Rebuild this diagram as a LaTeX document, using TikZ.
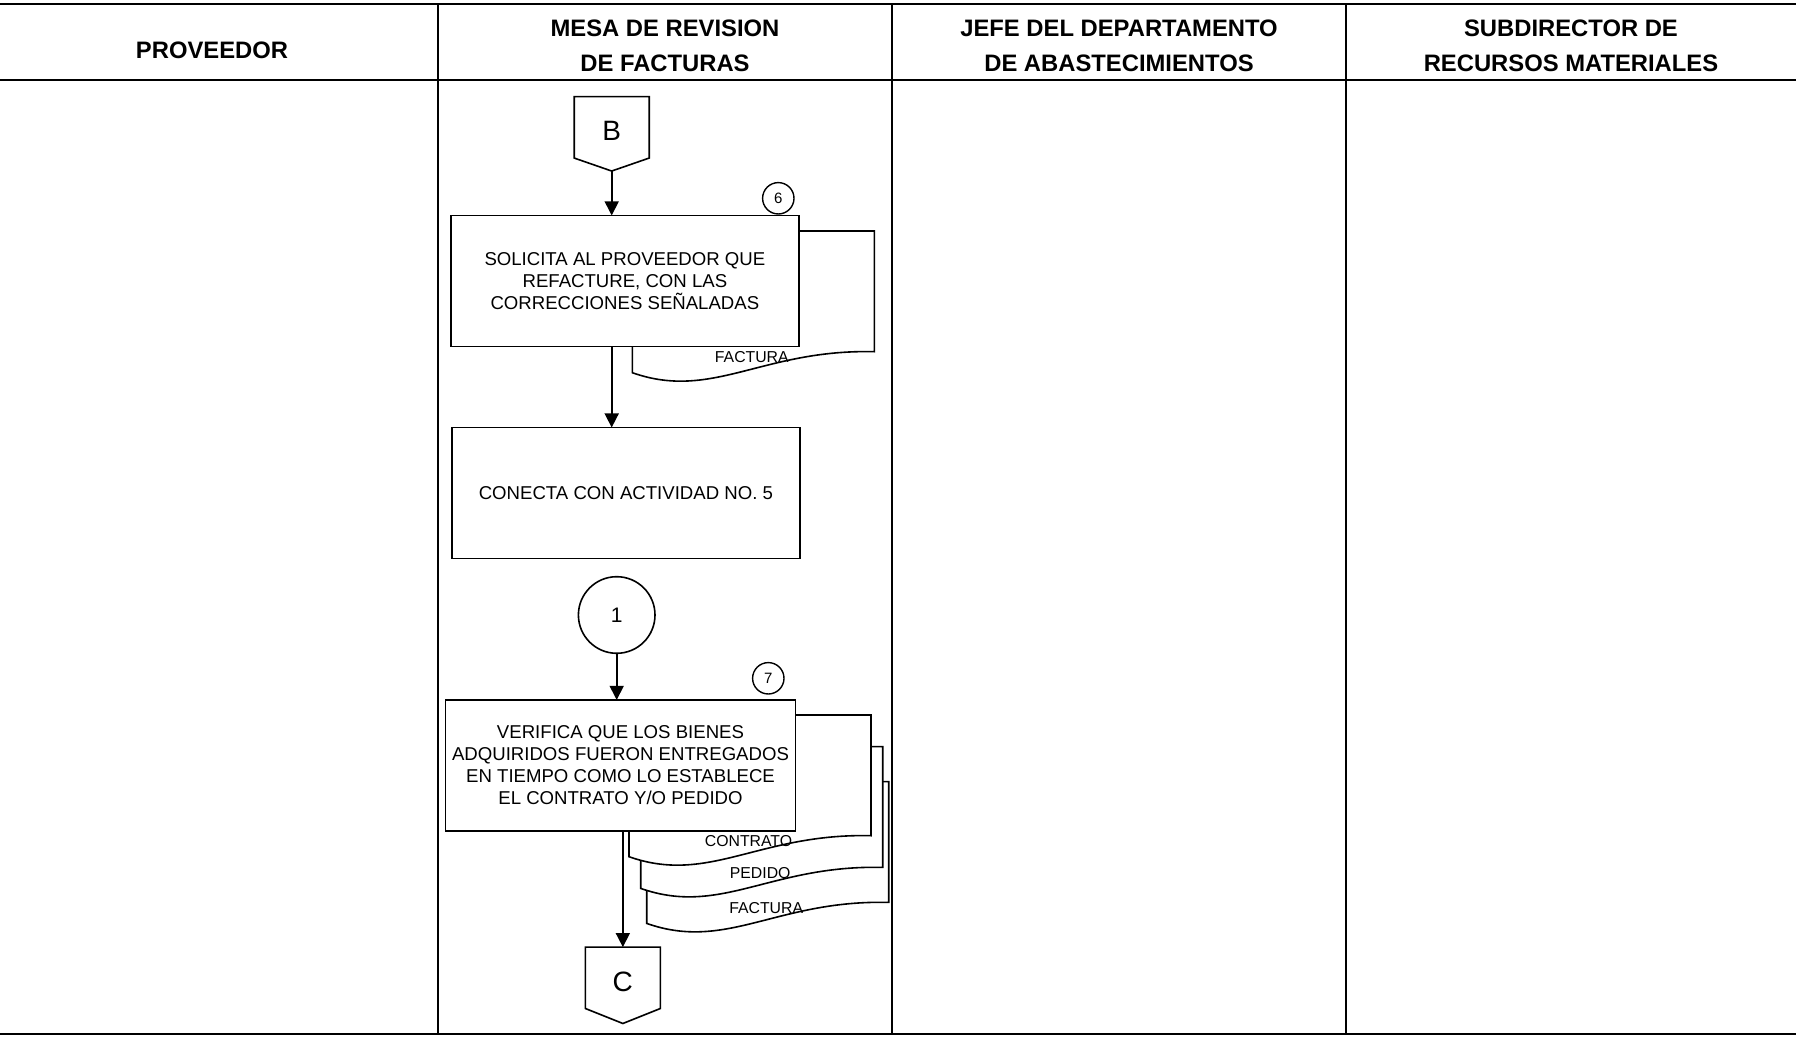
\documentclass[tikz,border=0pt]{standalone}
\usepackage{fontspec}
\setmainfont{Liberation Sans}
\usetikzlibrary{calc}
\usetikzlibrary{positioning}
\usetikzlibrary{arrows.meta}
\tikzset{
	frameLine/.style = {
		line width=1.4pt, draw=black
	},
	laneLine/.style = {
		line width=1pt, draw=black
	},
	lane/.style = {
		font=\bfseries\fontsize{11.9}{17.2}\selectfont, align=center
	},
	activity/.style = {
		draw, line width=0.8pt, fill=white, outer sep=0pt, align=center,
		minimum width=174pt, minimum height=65.5pt,
		font=\fontsize{9.3}{11}\selectfont
	},
	connector/.style = {
		minimum width=37.5pt, minimum height=30.7pt, inner sep=0pt, outer sep=0pt,
		text height=13.5pt, text depth=0pt,
		font=\fontsize{14}{16}\selectfont
	},
	stepnum/.style = {
		draw, circle, line width=0.7pt, minimum size=15.7pt, inner sep=0pt,
		font=\fontsize{7.5}{9}\selectfont
	},
	link/.style = {
		draw, circle, line width=0.8pt, minimum size=38.3pt, inner sep=0pt,
		font=\fontsize{10.5}{12}\selectfont
	},
	flowLine/.style = {
		line width=0.8pt, -{Triangle[length=7pt,width=7pt]}
	},
	docLine/.style = {
		line width=0.8pt, fill=white
	},
	docLabel/.style = {
		font=\fontsize{7.9}{9}\selectfont, inner sep=0pt
	}
}
% document sheet: top left x, top left y, node name, label
\newcommand{\docsheet}[4]{%
	\begin{scope}[shift={(#1,#2)}]
		\draw[docLine] (0,0) -- (242,0) -- (242,120.7)
			.. controls (130,118) and (80,170) .. (0,141.7) -- cycle;
		\node[docLabel] (#3) at (119.5,126) {#4};
	\end{scope}
}

\begin{document}
\begin{tikzpicture}[x=0.5pt, y=-0.5pt]
	\useasboundingbox (0,0) rectangle (1796,1037);

	% lanes
	\draw[frameLine] (0,4) -- (1796,4);
	\draw[frameLine] (0,80) -- (1796,80);
	\draw[laneLine] (0,1034) -- (1796,1034);
	\foreach \x in {438,892,1346}
		\draw[laneLine] (\x,4) -- (\x,1034);

	\node[lane] (prov) at (212,50) {PROVEEDOR};
	\node[lane] (mesa) at (665,45.8) {MESA DE REVISION\\DE FACTURAS};
	\node[lane] (jefe) at (1119,45.8) {JEFE DEL DEPARTAMENTO\\DE ABASTECIMIENTOS};
	\node[lane] (subdir) at (1571,45.8) {SUBDIRECTOR DE\\RECURSOS MATERIALES};

	% connector B
	\node[connector] (bcon) at (611.7,127.35) {B};
	\coordinate (btip) at ([yshift=-6.5pt]bcon.south);
	\draw[line width=0.8pt] (bcon.north west) -- (bcon.north east) -- (bcon.south east)
		-- (btip) -- (bcon.south west) -- cycle;

	% activity 6
	\docsheet{632.3}{231}{factA}{FACTURA}
	\node[activity] (solicita) at (624.9,280.9)
		{SOLICITA AL PROVEEDOR QUE\\REFACTURE, CON LAS\\CORRECCIONES SEÑALADAS};
	\node[stepnum] (n6) at (778.3,198.3) {6};

	\node[activity] (conecta) at (625.9,493) {CONECTA CON ACTIVIDAD NO. 5};

	% connector 1
	\node[link] (uno) at (616.7,615) {1};

	% activity 7
	\docsheet{646.7}{781.7}{factB}{FACTURA}
	\docsheet{640.7}{746.7}{pedido}{PEDIDO}
	\docsheet{629}{715}{contrato}{CONTRATO}
	\node[activity] (verifica) at (620.5,765.4)
		{VERIFICA QUE LOS BIENES\\ADQUIRIDOS FUERON ENTREGADOS\\EN TIEMPO COMO LO ESTABLECE\\EL CONTRATO Y/O PEDIDO};
	\node[stepnum] (n7) at (768.3,678.3) {7};

	% connector C
	\node[connector] (ccon) at (622.85,977.8) {C};
	\coordinate (ctip) at ([yshift=-7.5pt]ccon.south);
	\draw[line width=0.8pt] (ccon.north west) -- (ccon.north east) -- (ccon.south east)
		-- (ctip) -- (ccon.south west) -- cycle;

	\draw[flowLine] (btip) -- (btip |- solicita.north);
	\draw[flowLine] (solicita.south -| btip) -- (btip |- conecta.north);
	\draw[flowLine] (uno.south) -- (uno.south |- verifica.north);
	\draw[flowLine] (verifica.south -| ccon) -- (ccon.north);
\end{tikzpicture}
\end{document}
